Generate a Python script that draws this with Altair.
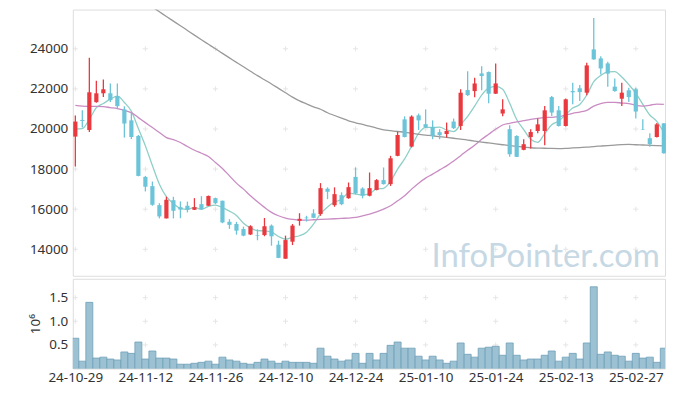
import altair as alt
import pandas as pd

# ---- data (trading-day index 0 = 2024-10-29) ----
opens = [19620, 20450, 19950, 21340, 21780, 21780, 21640, 20980, 20430, 19650,
         17610, 17150, 16200, 15540, 16450, 16100, 16170, 15970, 16250, 16170,
         16550, 16420, 15370, 15260, 15010, 14740, 14710, 14710, 15180, 14230,
         13530, 14380, 15420, 15580, 15790, 15760, 17020, 16200, 16700, 16550,
         17610, 17030, 16670, 16960, 17450, 17250, 18660, 20480, 19120, 20680,
         20240, 20100, 19840, 19750, 20370, 20150, 21940, 21890, 22770, 22840,
         21760, 20770, 19990, 19650, 18960, 19600, 19900, 19900, 21590, 20930,
         20150, 21890, 22030, 21810, 23970, 23520, 23270, 22110, 21510, 21930,
         21980, 20000, 19540, 19600, 20280]
highs = [20670, 20930, 23550, 22410, 22470, 22270, 22270, 21130, 20820, 19700,
         17660, 17380, 16300, 16620, 16620, 16390, 16380, 16550, 16650, 16680,
         16580, 16430, 15500, 15370, 15130, 15200, 15000, 15560, 15240, 14430,
         14680, 15260, 15800, 15670, 16000, 17300, 17090, 17090, 16840, 17330,
         18080, 17090, 17830, 17500, 18080, 18660, 19870, 20630, 20680, 20770,
         20980, 20430, 19990, 20320, 20520, 21980, 22880, 22550, 23130, 22870,
         23260, 21480, 20180, 19690, 19490, 19990, 20520, 21150, 21640, 21150,
         21520, 22310, 22190, 23300, 25540, 23630, 23350, 22520, 22310, 22060,
         22060, 20480, 19790, 20300, 20300]
lows = [18130, 20070, 19850, 21310, 21600, 21340, 21015, 19570, 19500, 17640,
        16885, 16170, 15540, 15540, 15540, 15550, 15840, 15960, 15980, 16160,
        16250, 15300, 15020, 14730, 14650, 14710, 14450, 14650, 14180, 13560,
        13530, 14210, 15180, 15380, 15550, 15670, 16500, 16120, 16200, 16520,
        16750, 16540, 16640, 16940, 17230, 17160, 18640, 19580, 19080, 19950,
        20050, 19490, 19490, 19570, 20000, 19950, 21650, 21580, 21930, 21280,
        21740, 20640, 18610, 18600, 18940, 19030, 19790, 19190, 20650, 20120,
        20120, 21230, 21390, 21680, 23450, 22720, 22110, 21860, 21150, 21340,
        20520, 19950, 19120, 19580, 18760]
closes = [20370, 20400, 21830, 21780, 21980, 21440, 21140, 20270, 19600, 17660,
          17120, 16220, 15640, 16470, 15920, 15980, 15970, 16100, 16000, 16660,
          16300, 15340, 15220, 14930, 14680, 15150, 14680, 15150, 14650, 13570,
          14460, 15180, 15520, 15550, 15570, 17050, 16870, 16750, 16250, 17100,
          16790, 16670, 17050, 17450, 17250, 18540, 19700, 19600, 20620, 20430,
          20070, 19650, 19690, 19900, 20040, 21810, 21690, 22270, 22640, 21760,
          22270, 20980, 18740, 18610, 19240, 19850, 20230, 20930, 20820, 20150,
          21480, 21830, 21840, 23170, 23470, 23020, 22760, 21890, 21810, 21590,
          20870, 19980, 19240, 20230, 18790]
ma5 = [20000, 20020, 20480, 21065, 21272, 21486, 21634, 21322, 20886, 20022,
       19158, 18174, 17248, 16622, 16274, 16046, 15996, 16088, 15994, 16142,
       16206, 16080, 15904, 15690, 15294, 15064, 14932, 14918, 14862, 14640,
       14502, 14602, 14676, 14856, 15256, 15774, 16112, 16358, 16498, 16804,
       16752, 16712, 16772, 17012, 17042, 17392, 17998, 18508, 19142, 19778,
       20084, 20074, 20092, 19948, 19870, 20218, 20626, 21142, 21690, 22034,
       22126, 21984, 21278, 20472, 19968, 19484, 19334, 19772, 20214, 20396,
       20722, 21042, 21224, 21694, 22358, 22666, 22852, 22862, 22590, 22214,
       21784, 21228, 20698, 20382, 19822]
ma20 = [21179, 21144, 21130, 21130, 21115, 21065, 21015, 20930, 20816, 20567,
        20318, 20070, 19821, 19572, 19473, 19324, 19125, 18940, 18791, 18627,
        18328, 18030, 17662, 17299, 17000, 16667, 16368, 16090, 15841, 15672,
        15557, 15493, 15458, 15458, 15473, 15493, 15508, 15523, 15543, 15557,
        15592, 15672, 15756, 15871, 16005, 16169, 16418, 16667, 17000, 17299,
        17547, 17746, 17960, 18159, 18408, 18670, 18940, 19189, 19488, 19737,
        19985, 20199, 20284, 20349, 20418, 20483, 20532, 20567, 20582, 20617,
        20697, 20781, 20846, 20930, 21144, 21264, 21329, 21329, 21294, 21264,
        21179, 21144, 21179, 21244, 21229]
ma60 = [28640, 28410, 28170, 27945, 27710, 27480, 27250, 27015, 26775, 26550,
        26315, 26080, 25845, 25610, 25380, 25150, 24915, 24680, 24450, 24225,
        24000, 23770, 23547, 23323, 23100, 22880, 22660, 22453, 22244, 22025,
        21806, 21587, 21398, 21249, 21100, 20985, 20811, 20672, 20538, 20408,
        20309, 20224, 20140, 20045, 19955, 19915, 19875, 19836, 19786, 19736,
        19692, 19662, 19617, 19577, 19537, 19498, 19448, 19398, 19349, 19304,
        19259, 19214, 19169, 19130, 19090, 19065, 19050, 19040, 19030, 19025,
        19035, 19055, 19075, 19095, 19125, 19150, 19175, 19200, 19224, 19229,
        19214, 19200, 19184, 19169, 19155]
volume = [0.64, 0.155, 1.40, 0.22, 0.24, 0.20, 0.18, 0.35, 0.32, 0.56,
          0.20, 0.37, 0.22, 0.22, 0.20, 0.09, 0.09, 0.11, 0.13, 0.155,
          0.09, 0.24, 0.18, 0.155, 0.11, 0.09, 0.13, 0.20, 0.155, 0.11,
          0.155, 0.13, 0.13, 0.13, 0.11, 0.43, 0.26, 0.20, 0.155, 0.18,
          0.32, 0.11, 0.32, 0.18, 0.32, 0.49, 0.56, 0.43, 0.43, 0.26,
          0.18, 0.26, 0.18, 0.11, 0.155, 0.54, 0.30, 0.24, 0.43, 0.45,
          0.47, 0.28, 0.54, 0.28, 0.18, 0.20, 0.20, 0.28, 0.37, 0.155,
          0.24, 0.32, 0.20, 0.54, 1.73, 0.30, 0.35, 0.28, 0.26, 0.155,
          0.32, 0.22, 0.24, 0.13, 0.43]
tick_idx = [0, 10, 20, 30, 40, 50, 60, 70, 80]
tick_labels = ["24-10-29", "24-11-12", "24-11-26", "24-12-10", "24-12-24",
               "25-01-10", "25-01-24", "25-02-13", "25-02-27"]
price_ticks = [14000, 16000, 18000, 20000, 22000, 24000]
vol_ticks = [0.5, 1.0, 1.5]
ma_names = ["MA5", "MA20", "MA60"]
watermark = "InfoPointer.com"

FONT = "Noto Sans"
RED = "#e9393f"
BLUE = "#6cc4d9"

n = len(closes)
df = pd.DataFrame({
    "i": list(range(n)), "open": opens, "high": highs, "low": lows,
    "close": closes, "vol": volume,
})

ma_df = pd.DataFrame({
    "i": list(range(n)) * 3,
    "ma": ["MA5"] * n + ["MA20"] * n + ["MA60"] * n,
    "v": ma5 + ma20 + ma60,
})

price_cross = pd.DataFrame([(x, y) for x in tick_idx for y in price_ticks], columns=["i", "p"])
vol_cross = pd.DataFrame([(x, y) for x in tick_idx for y in vol_ticks], columns=["i", "p"])

xscale = alt.Scale(domain=[-0.36, 84.17], nice=False, zero=False)
pscale = alt.Scale(domain=[12680, 25955], nice=False, zero=False)
vscale = alt.Scale(domain=[0, 1.9], nice=False)
CROSS = "M-1,0H1M0,-1V1"

base = alt.Chart(df)
updown = alt.condition("datum.close >= datum.open", alt.value(RED), alt.value(BLUE))

p_cross = alt.Chart(price_cross).mark_point(
    shape=CROSS, size=25, color="#dcdcdc", strokeWidth=1, filled=False
).encode(
    x=alt.X("i:Q", scale=xscale, axis=None),
    y=alt.Y("p:Q", scale=pscale,
            axis=alt.Axis(values=price_ticks, format="d", ticks=False, domain=False,
                          grid=False, labelPadding=5, labelFontSize=13.5,
                          labelColor="#333", labelFont=FONT),
            title=None),
)

lines = alt.Chart(ma_df).mark_line(clip=True, strokeWidth=1.3, interpolate="monotone").encode(
    x=alt.X("i:Q", scale=xscale, axis=None),
    y=alt.Y("v:Q", scale=pscale),
    color=alt.Color("ma:N", scale=alt.Scale(domain=ma_names,
                                            range=["#8ecfc7", "#c98cc3", "#9a9a9a"]),
                    legend=None),
    detail="ma:N",
)

wicks = base.mark_rule(strokeWidth=1.3).encode(
    x=alt.X("i:Q", scale=xscale, axis=None),
    y=alt.Y("low:Q", scale=pscale),
    y2="high:Q",
    color=updown,
)
bodies = base.transform_calculate(
    x0="datum.i - 0.3", x1="datum.i + 0.3"
).mark_bar().encode(
    x=alt.X("x0:Q", scale=xscale, axis=None),
    x2="x1:Q",
    y=alt.Y("open:Q", scale=pscale),
    y2="close:Q",
    color=updown,
)

wm = alt.Chart(pd.DataFrame({"t": [watermark], "i": [n - 1], "p": [13120]})).mark_text(
    align="right", baseline="alphabetic", dx=-4, fontSize=33, font="Lato",
    fontWeight="normal", color="#c6d8e4"
).encode(
    x=alt.X("i:Q", scale=xscale, axis=None),
    y=alt.Y("p:Q", scale=pscale),
    text="t:N",
)

top = alt.layer(p_cross, wm, lines, wicks, bodies).properties(width=594, height=267)

label_expr = "[" + ",".join("'%s'" % s for s in tick_labels) + "][round(datum.value / 10)]"

v_cross = alt.Chart(vol_cross).mark_point(
    shape=CROSS, size=25, color="#dcdcdc", strokeWidth=1, filled=False
).encode(
    x=alt.X("i:Q", scale=xscale,
            axis=alt.Axis(values=tick_idx, labelExpr=label_expr, ticks=False, domain=False,
                          grid=False, labelPadding=2, labelFontSize=13.5, labelColor="#333",
                          labelFont=FONT, labelFlush=False),
            title=None),
    y=alt.Y("p:Q", scale=vscale,
            axis=alt.Axis(values=vol_ticks, format=".1f", ticks=False, domain=False,
                          grid=False, labelPadding=5, labelFontSize=13.5, labelColor="#333",
                          labelFont=FONT, titleFont=FONT, titleFontSize=13.5,
                          titleFontWeight="normal", titleColor="#333", titlePadding=6),
            title="10⁶"),
)
vbars = base.transform_calculate(
    x0="datum.i - 0.5", x1="datum.i + 0.5"
).mark_bar(clip=True, fill="#9cc1d2", stroke="#6f9fb7", strokeWidth=1, strokeOpacity=0.8).encode(
    x=alt.X("x0:Q", scale=xscale),
    x2="x1:Q",
    y=alt.Y("vol:Q", scale=vscale),
    y2=alt.datum(0),
)
bottom = alt.layer(v_cross, vbars).properties(width=594, height=90)

chart = alt.vconcat(top, bottom, spacing=1).properties(
    padding={"left": 20, "top": 0, "right": 2, "bottom": 2}
).configure_view(stroke="#e3e3e3").configure(background="white")

chart.save("out.html", embed_options={"renderer": "svg", "actions": False})
